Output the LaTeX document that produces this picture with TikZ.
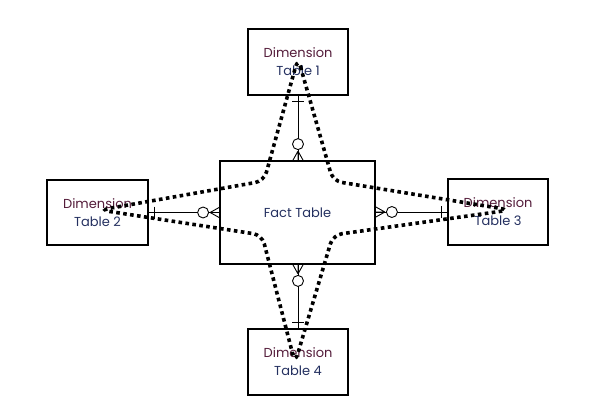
\documentclass[tikz,border=0pt]{standalone}
\usepackage{fontspec}
\setmainfont{Poppins}
\usetikzlibrary{calc}
\definecolor{labeltext}{RGB}{36,48,96}
\definecolor{dimtext}{RGB}{84,28,58}
\newcommand{\dimlabel}[1]{\textcolor{dimtext}{Dimension}\\Table #1}
\begin{document}
\begin{tikzpicture}[x=1pt,y=-1pt,
  table/.style={draw=black,line width=1.8pt,fill=white,align=center,
    text=labeltext,font=\fontsize{13}{18}\selectfont,inner sep=0pt},
  link/.style={draw=black,line width=0.9pt},
  star/.style={draw=black,line width=3.6pt,dash pattern=on 3.6pt off 3.4pt,
    rounded corners=9pt}]
\useasboundingbox (0,0) rectangle (597,415);

% tables
\node[table,minimum width=100pt,minimum height=66pt] (d1) at (298,62) {\dimlabel{1}};
\node[table,minimum width=101pt,minimum height=65pt] (d2) at (97.5,212.5) {\dimlabel{2}};
\node[table,minimum width=155pt,minimum height=103pt] (fact) at (297.5,212.5) {Fact Table};
\node[table,minimum width=100pt,minimum height=66pt] (d3) at (498,212) {\dimlabel{3}};
\node[table,minimum width=100pt,minimum height=66pt] (d4) at (298,362) {\dimlabel{4}};

% Dimension Table 1 -- Fact Table (one to zero-or-many)
\coordinate (t1) at (fact.north-|d1.south);
\draw[link] (d1.south) -- (t1);
\draw[link] ($(d1.south)+(-6,6)$) -- ++(12,0);
\draw[link,fill=white] ($(t1)+(0,-16)$) circle (5.5);
\draw[link] ($(t1)+(0,-9)$) -- ($(t1)+(-5,0)$)
            ($(t1)+(0,-9)$) -- (t1)
            ($(t1)+(0,-9)$) -- ($(t1)+(5,0)$);

% Dimension Table 2 -- Fact Table
\coordinate (t2) at (fact.west|-d2.east);
\draw[link] (d2.east) -- (t2);
\draw[link] ($(d2.east)+(6,-6)$) -- ++(0,12);
\draw[link,fill=white] ($(t2)+(-16,0)$) circle (5.5);
\draw[link] ($(t2)+(-9,0)$) -- ($(t2)+(0,-5)$)
            ($(t2)+(-9,0)$) -- (t2)
            ($(t2)+(-9,0)$) -- ($(t2)+(0,5)$);

% Dimension Table 3 -- Fact Table
\coordinate (t3) at (fact.east|-d3.west);
\draw[link] (d3.west) -- (t3);
\draw[link] ($(d3.west)+(-6,-6)$) -- ++(0,12);
\draw[link,fill=white] ($(t3)+(16,0)$) circle (5.5);
\draw[link] ($(t3)+(9,0)$) -- ($(t3)+(0,-5)$)
            ($(t3)+(9,0)$) -- (t3)
            ($(t3)+(9,0)$) -- ($(t3)+(0,5)$);

% Dimension Table 4 -- Fact Table
\coordinate (t4) at (fact.south-|d4.north);
\draw[link] (d4.north) -- (t4);
\draw[link] ($(d4.north)+(-6,-6)$) -- ++(12,0);
\draw[link,fill=white] ($(t4)+(0,16)$) circle (5.5);
\draw[link] ($(t4)+(0,9)$) -- ($(t4)+(-5,0)$)
            ($(t4)+(0,9)$) -- (t4)
            ($(t4)+(0,9)$) -- ($(t4)+(5,0)$);

% dotted star spanning the four dimensions
\coordinate (s1) at (298,58);
\coordinate (s3) at (510,210);
\coordinate (s4) at (295,363);
\coordinate (s2) at (100,210);
\draw[star] (s1) -- (333,181) -- (s3) -- (333,235) -- (s4)
  -- (262,235) -- (s2) -- (264,181) -- cycle;
\end{tikzpicture}
\end{document}
